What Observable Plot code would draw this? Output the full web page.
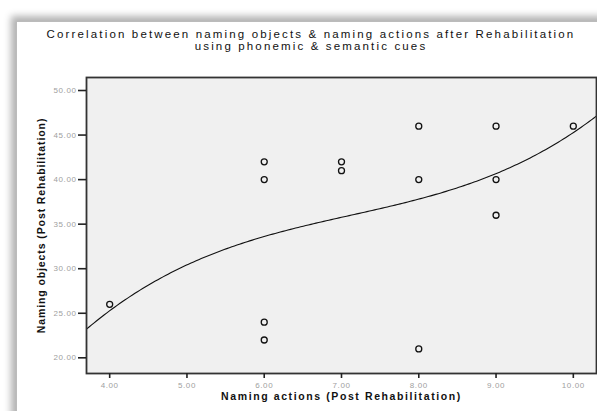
<!DOCTYPE html>
<html>
<head>
<meta charset="utf-8">
<script src="https://cdn.jsdelivr.net/npm/d3@7"></script>
<script src="https://cdn.jsdelivr.net/npm/@observablehq/plot@0.6"></script>
<style>
  html, body { margin: 0; padding: 0; background: #fff; overflow: hidden; }
  #wrap { position: relative; width: 597px; height: 411px; overflow: hidden; }
  #panel { position: absolute; left: 16px; top: 21px; width: 620px; height: 420px; background: #fff;
           box-shadow: -5px -5px 7px rgba(0,0,0,0.3); border-top: 1px solid #bbb; border-left: 1px solid #bbb; }
  #chart { position: absolute; left: 0; top: 0; }
  .title { position: absolute; left: 0; width: 622px; text-align: center; font-family: "Liberation Sans", Arial, sans-serif;
           font-size: 11.5px; color: #111; letter-spacing: 2.15px; white-space: nowrap; }
  .xlab text { letter-spacing: 1.6px; }
  .ylab text { letter-spacing: 0.9px; }
  .ticklab text { letter-spacing: 0.6px; }
</style>
</head>
<body>
<div id="wrap">
  <div id="panel"></div>
  <div id="chart"></div>
  <div class="title" id="t1" style="top:28px">Correlation between naming objects &amp; naming actions after Rehabilitation</div>
  <div class="title" id="t2" style="top:40px">using phonemic &amp; semantic cues</div>
</div>
<script>
// Data
const namingActions = [4, 6, 6, 6, 6, 7, 7, 8, 8, 8, 9, 9, 9, 10];
const namingObjects = [26, 42, 40, 24, 22, 42, 41, 46, 40, 21, 46, 40, 36, 46];
const xTicks = [4, 5, 6, 7, 8, 9, 10];
const yTicks = [20, 25, 30, 35, 40, 45, 50];
const xLabel = "Naming actions (Post Rehabilitation)";
const yLabel = "Naming objects (Post Rehabilitation)";

const points = namingActions.map((x, i) => ({x, y: namingObjects[i]}));

// Cubic least-squares fit (the curve drawn by the original software)
function cubicFit(xs, ys) {
  const n = 4;
  const A = Array.from({length: n}, () => new Array(n).fill(0));
  const b = new Array(n).fill(0);
  xs.forEach((x, k) => {
    const p = [1, x, x * x, x * x * x];
    for (let i = 0; i < n; i++) {
      b[i] += p[i] * ys[k];
      for (let j = 0; j < n; j++) A[i][j] += p[i] * p[j];
    }
  });
  for (let i = 0; i < n; i++) {
    let m = i;
    for (let r = i + 1; r < n; r++) if (Math.abs(A[r][i]) > Math.abs(A[m][i])) m = r;
    [A[i], A[m]] = [A[m], A[i]]; [b[i], b[m]] = [b[m], b[i]];
    for (let r = i + 1; r < n; r++) {
      const f = A[r][i] / A[i][i];
      for (let c = i; c < n; c++) A[r][c] -= f * A[i][c];
      b[r] -= f * b[i];
    }
  }
  const c = new Array(n).fill(0);
  for (let i = n - 1; i >= 0; i--) {
    let s = b[i];
    for (let j = i + 1; j < n; j++) s -= A[i][j] * c[j];
    c[i] = s / A[i][i];
  }
  return x => c[0] + c[1] * x + c[2] * x * x + c[3] * x * x * x;
}
const fit = cubicFit(namingActions, namingObjects);
const xDomain = [3.70, 10.30];
const curve = d3.range(0, 201).map(i => {
  const x = xDomain[0] + (xDomain[1] - xDomain[0]) * i / 200;
  return {x, y: fit(x)};
});

const chart = Plot.plot({
  width: 597,
  height: 411,
  marginLeft: 86,
  marginRight: 1,
  marginTop: 77,
  marginBottom: 38,
  style: {background: "transparent", fontFamily: "Liberation Sans, Arial, sans-serif"},
  x: {domain: xDomain},
  y: {domain: [18.24, 51.46]},
  marks: [
    Plot.frame({fill: "#f0f0f0", stroke: null}),
    Plot.line(curve, {x: "x", y: "y", stroke: "#111", strokeWidth: 1.1, clip: true}),
    Plot.dot(points, {x: "x", y: "y", r: 3, stroke: "#111", strokeWidth: 1.3, fill: "none"}),
    Plot.frame({stroke: "#333", strokeWidth: 1.8}),
    Plot.axisX(xTicks, {tickSize: 5, tickPadding: 4, tickFormat: d => d.toFixed(2), fontSize: 8,
      stroke: "#222", strokeWidth: 1.6, fill: "#a0a0a0", label: null, className: "ticklab"}),
    Plot.axisY(yTicks, {tickSize: 8, tickPadding: 2, tickFormat: d => d.toFixed(2), fontSize: 8,
      stroke: "#222", strokeWidth: 1.6, fill: "#a0a0a0", label: null, className: "ticklab"}),
    Plot.text([xLabel], {frameAnchor: "bottom", dy: 26, fontSize: 10.5, fontWeight: "bold", fill: "#111",
      className: "xlab"}),
    Plot.text([yLabel], {frameAnchor: "left", dx: -45, rotate: -90, textAnchor: "middle", fontSize: 10.5,
      fontWeight: "bold", fill: "#111", className: "ylab"})
  ]
});
document.getElementById("chart").appendChild(chart);
</script>
</body>
</html>
